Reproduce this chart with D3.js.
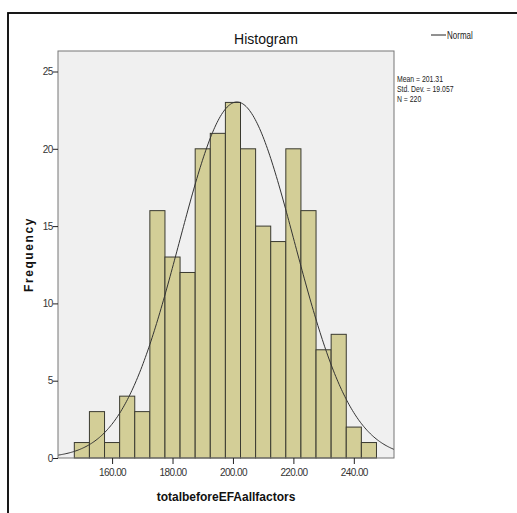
<!DOCTYPE html>
<html>
<head>
<meta charset="utf-8">
<script src="https://cdn.jsdelivr.net/npm/d3@7"></script>
<style>
  body { margin: 0; background: #fff; }
  text { font-family: "Liberation Sans", Arial, sans-serif; }
</style>
</head>
<body>
<svg width="517" height="513"></svg>
<script>
// histogram bins (width 5), lower edges
const binStarts = [147.5, 152.5, 157.5, 162.5, 167.5, 172.5, 177.5, 182.5, 187.5, 192.5,
                   197.5, 202.5, 207.5, 212.5, 217.5, 222.5, 227.5, 232.5, 237.5, 242.5]
const counts = [1, 3, 1, 4, 3, 16, 13, 12, 20, 21, 23, 20, 15, 14, 20, 16, 7, 8, 2, 1]
const binWidth = 5

const xTicks = [160, 180, 200, 220, 240]
const yTicks = [0, 5, 10, 15, 20, 25]

const mean = 201.31
const sd = 19.057
const n = 220
const statLines = ['Mean = 201.31', 'Std. Dev. = 19.057', 'N = 220']

const plot = { left: 58, top: 51, right: 394, bottom: 458 }

const svg = d3.select('svg')

// outer frame (only left/top edges visible)
svg.append('rect')
	.attr('x', 8).attr('y', 13)
	.attr('width', 700).attr('height', 700)
	.attr('fill', 'none')
	.attr('stroke', '#000')
	.attr('stroke-width', 1.8)

const x = d3.scaleLinear()
	.domain([142.1, 253.3])
	.range([plot.left, plot.right])

const y = d3.scaleLinear()
	.domain([0, 25])
	.range([plot.bottom, plot.bottom - 25 * 15.46])

svg.append('rect')
	.attr('x', plot.left).attr('y', plot.top)
	.attr('width', plot.right - plot.left)
	.attr('height', plot.bottom - plot.top)
	.attr('fill', '#f0f0f0')

svg.selectAll('rect.bar')
		.data(counts)
	.enter().append('rect')
		.attr('class', 'bar')
		.attr('x', (d, i) => x(binStarts[i]))
		.attr('width', (d, i) => x(binStarts[i] + binWidth) - x(binStarts[i]))
		.attr('y', d => y(d))
		.attr('height', d => y(0) - y(d))
		.attr('fill', '#d3ce97')
		.attr('stroke', '#3a3a30')
		.attr('stroke-width', 1)

// normal curve scaled to counts
const scale = n * binWidth / (sd * Math.sqrt(2 * Math.PI))
const curvePts = d3.range(0, 301).map(k => {
	const v = x.domain()[0] + k * (x.domain()[1] - x.domain()[0]) / 300
	return [v, scale * Math.exp(-0.5 * ((v - mean) / sd) ** 2)]
})

svg.append('path')
	.datum(curvePts)
	.attr('fill', 'none')
	.attr('stroke', '#333')
	.attr('stroke-width', 1)
	.attr('d', d3.line().x(d => x(d[0])).y(d => y(d[1])))

svg.append('rect')
	.attr('x', plot.left).attr('y', plot.top)
	.attr('width', plot.right - plot.left)
	.attr('height', plot.bottom - plot.top)
	.attr('fill', 'none')
	.attr('stroke', '#777')
	.attr('stroke-width', 1)

// axes
const xAxis = svg.append('g')
	.attr('transform', `translate(0,${plot.bottom})`)
	.call(d3.axisBottom(x).tickValues(xTicks).tickFormat(d3.format('.2f')).tickSize(6).tickSizeOuter(0))
xAxis.select('.domain').remove()

const yAxis = svg.append('g')
	.attr('transform', `translate(${plot.left},0)`)
	.call(d3.axisLeft(y).tickValues(yTicks).tickSize(5).tickSizeOuter(0))
yAxis.select('.domain').remove()

svg.selectAll('.tick line').attr('stroke', '#222')
svg.selectAll('.tick text')
	.attr('fill', '#333')
	.style('font-size', '10px')
	.style('font-family', '"Liberation Sans", Arial, sans-serif')
xAxis.selectAll('.tick text').style('letter-spacing', '-0.6px').attr('dy', '0.9em')
yAxis.selectAll('.tick text').attr('x', -5).style('letter-spacing', '-0.4px')

// titles
svg.append('text')
	.attr('x', 266)
	.attr('y', 44)
	.attr('text-anchor', 'middle')
	.style('font-size', '14px')
	.attr('fill', '#111')
	.text('Histogram')

svg.append('text')
	.attr('x', (plot.left + plot.right) / 2)
	.attr('y', 501)
	.attr('text-anchor', 'middle')
	.style('font-size', '12px')
	.style('font-weight', 'bold')
	.attr('fill', '#111')
	.text('totalbeforeEFAallfactors')

svg.append('text')
	.attr('transform', `translate(33,${(plot.top + plot.bottom) / 2}) rotate(-90)`)
	.attr('text-anchor', 'middle')
	.style('font-size', '12px')
	.style('font-weight', 'bold')
	.style('letter-spacing', '1.6px')
	.attr('fill', '#111')
	.text('Frequency')

// legend
svg.append('line')
	.attr('x1', 431).attr('x2', 446)
	.attr('y1', 35).attr('y2', 35)
	.attr('stroke', '#222')
svg.append('g')
	.attr('transform', 'translate(447,39) scale(0.8,1)')
	.append('text')
	.style('font-size', '10px')
	.attr('fill', '#222')
	.text('Normal')

svg.append('g')
	.attr('transform', 'translate(397,0) scale(0.8,1)')
	.selectAll('text.stat')
		.data(statLines)
	.enter().append('text')
		.attr('class', 'stat')
		.attr('x', 0)
		.attr('y', (d, i) => 82 + i * 10)
		.style('font-size', '8.6px')
		.attr('fill', '#222')
		.text(d => d)
</script>
</body>
</html>
